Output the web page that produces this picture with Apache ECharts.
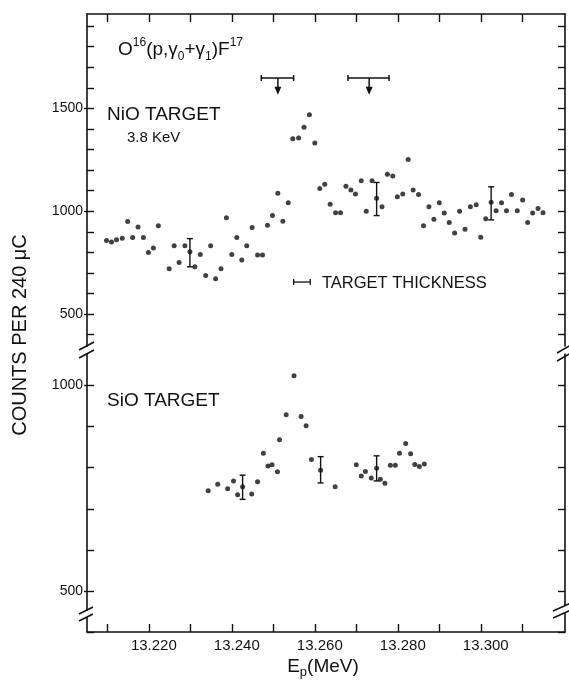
<!DOCTYPE html>
<html><head><meta charset="utf-8">
<script src="https://cdn.jsdelivr.net/npm/echarts@6/dist/echarts.min.js"></script>
<style>html,body{margin:0;padding:0;background:#fff}#c{width:569px;height:682px}</style>
</head><body><div id="c"></div><script>
// ---- data ----
const nioX = [13.2098,13.2110,13.2122,13.2136,13.2149,13.2161,13.2174,13.2187,13.2199,13.2211,13.2223,13.2249,13.2261,13.2273,13.2287,13.2299,13.2311,13.2324,13.2337,13.2349,13.2361,13.2374,13.2387,13.2400,13.2412,13.2424,13.2436,13.2449,13.2462,13.2474,13.2486,13.2498,13.2511,13.2523,13.2536,13.2547,13.2561,13.2574,13.2587,13.2600,13.2612,13.2624,13.2637,13.2650,13.2662,13.2675,13.2687,13.2698,13.2712,13.2724,13.2738,13.2749,13.2762,13.2775,13.2788,13.2799,13.2812,13.2825,13.2837,13.2850,13.2862,13.2875,13.2887,13.2900,13.2912,13.2924,13.2937,13.2949,13.2962,13.2975,13.2989,13.3000,13.3012,13.3025,13.3037,13.3050,13.3062,13.3074,13.3088,13.3101,13.3113,13.3125,13.3138,13.3150];
const nioY = [858,851,861,869,950,872,923,872,800,822,929,721,832,751,832,803,730,790,688,832,672,721,969,790,872,763,832,921,787,787,932,979,1087,952,1042,1353,1356,1409,1469,1332,1111,1131,1034,993,993,1122,1103,1084,1148,1000,1148,1063,1022,1180,1172,1071,1084,1252,1103,1082,930,1022,961,1042,992,945,894,1000,913,1022,1032,874,964,1044,1003,1042,1003,1082,1003,1055,945,992,1013,993];
const nioErrX = [13.2299,13.2749,13.3025];
const nioErrLow = [730,979,958];
const nioErrHigh = [867,1140,1119];

const sioX = [13.2343,13.2366,13.2390,13.2404,13.2414,13.2426,13.2448,13.2462,13.2476,13.2487,13.2497,13.2510,13.2515,13.2531,13.2550,13.2567,13.2579,13.2592,13.2614,13.2649,13.2700,13.2712,13.2722,13.2736,13.2749,13.2758,13.2769,13.2782,13.2794,13.2804,13.2819,13.2831,13.2841,13.2852,13.2864];
const sioY = [744,760,749,768,734,754,736,766,835,804,807,790,868,929,1024,925,902,820,794,754,807,780,791,775,799,772,762,806,806,835,859,834,808,803,809];
const sioErrX = [13.2426,13.2614,13.2749];
const sioErrLow = [723,763,768];
const sioErrHigh = [782,827,829];

const xTicks = [13.21,13.22,13.23,13.24,13.25,13.26,13.27,13.28,13.29,13.30,13.31];
const xLabels = [13.22,13.24,13.26,13.28,13.30];
const nioTicks = [400,500,600,700,800,900,1000,1100,1200,1300,1400,1500,1600,1700,1800,1900];
const nioLabels = [500,1000,1500];
const sioTicks = [400,500,600,700,800,900,1000];
const sioLabels = [500,1000];

// resolution markers (bar + arrow)
const resBarLeft = [13.2471,13.2680];
const resBarRight = [13.2549,13.2779];
const resArrowX = [13.2511,13.2731];
const resBarY = 1648, resArrowTipY = 1567;
// target thickness bar
const thickLeft = [13.2549], thickRight = [13.2589], thickY = [656];

// ---- chart ----
const FONT = 'Liberation Sans, Arial, sans-serif';
const INK = '#111';
const chart = echarts.init(document.getElementById('c'));
const xMin = 13.2051, xMax = 13.3203;

function errRender(params, api){
  const x = api.value(0), lo = api.value(1), hi = api.value(2);
  const a = api.coord([x, lo]), b = api.coord([x, hi]);
  const st = {stroke: INK, lineWidth: 1.4};
  return {type:'group', children:[
    {type:'line', shape:{x1:a[0],y1:a[1],x2:b[0],y2:b[1]}, style:st},
    {type:'line', shape:{x1:a[0]-3,y1:a[1],x2:a[0]+3,y2:a[1]}, style:st},
    {type:'line', shape:{x1:b[0]-3,y1:b[1],x2:b[0]+3,y2:b[1]}, style:st}
  ]};
}
function resRender(params, api){
  const l = api.coord([api.value(0), resBarY]), r = api.coord([api.value(1), resBarY]);
  const m = api.coord([api.value(2), resBarY]), t = api.coord([api.value(2), resArrowTipY]);
  const st = {stroke: INK, lineWidth: 1.5};
  return {type:'group', children:[
    {type:'line', shape:{x1:l[0],y1:l[1],x2:r[0],y2:r[1]}, style:st},
    {type:'line', shape:{x1:l[0],y1:l[1]-3,x2:l[0],y2:l[1]+3}, style:st},
    {type:'line', shape:{x1:r[0],y1:r[1]-3,x2:r[0],y2:r[1]+3}, style:st},
    {type:'line', shape:{x1:m[0],y1:m[1],x2:t[0],y2:t[1]-6}, style:st},
    {type:'polygon', shape:{points:[[t[0]-3.5,t[1]-8],[t[0]+3.5,t[1]-8],[t[0],t[1]]]}, style:{fill:INK}}
  ]};
}
function thickRender(params, api){
  const y = api.value(2);
  const l = api.coord([api.value(0), y]), r = api.coord([api.value(1), y]);
  const st = {stroke: INK, lineWidth: 1.3};
  return {type:'group', children:[
    {type:'line', shape:{x1:l[0],y1:l[1],x2:r[0],y2:r[1]}, style:st},
    {type:'line', shape:{x1:l[0],y1:l[1]-3,x2:l[0],y2:l[1]+3}, style:st},
    {type:'line', shape:{x1:r[0],y1:r[1]-3,x2:r[0],y2:r[1]+3}, style:st}
  ]};
}

const lineSt = {lineStyle:{color:INK, width:1.6}};
function yAx(grid, pos, min, max, ticks, labels, showLabels){
  return {type:'value', gridIndex:grid, position:pos, min:min, max:max, splitLine:{show:false},
    axisLine:{show:true, ...lineSt},
    axisTick:{show:true, inside:true, length:7, customValues:ticks, lineStyle:{color:INK, width:1.4}},
    axisLabel:{show:showLabels, customValues:labels, formatter:v=>String(Math.round(v)), margin:4, color:INK, fontFamily:FONT, fontSize:14}};
}
function yMajor(grid, min, max, labels){
  return {type:'value', gridIndex:grid, position:'left', min:min, max:max, splitLine:{show:false},
    axisLine:{show:false}, axisLabel:{show:false},
    axisTick:{show:true, inside:false, length:3, customValues:labels, lineStyle:{color:INK, width:1.4}}};
}

const option = {
  animation:false,
  backgroundColor:'#fff',
  grid:[
    {left:87, right:4, top:14, height:332},
    {left:87, right:4, top:354, height:278}
  ],
  xAxis:[
    {type:'value', gridIndex:0, position:'bottom', min:xMin, max:xMax, show:false},
    {type:'value', gridIndex:1, position:'bottom', min:xMin, max:xMax, splitLine:{show:false},
      axisLine:{show:true, ...lineSt},
      axisTick:{show:true, inside:true, length:8, customValues:xTicks, lineStyle:{color:INK, width:1.4}},
      axisLabel:{customValues:xLabels, formatter:v=>Number(v).toFixed(3), margin:6, padding:[0,0,0,10], color:INK, fontFamily:FONT, fontSize:15}},
    {type:'value', gridIndex:0, position:'top', min:xMin, max:xMax, splitLine:{show:false},
      axisLine:{show:true, ...lineSt}, axisLabel:{show:false},
      axisTick:{show:true, inside:true, length:8, customValues:xTicks, lineStyle:{color:INK, width:1.4}}}
  ],
  yAxis:[
    yAx(0,'left',345,1959,nioTicks,nioLabels,true),
    yAx(0,'right',345,1959,nioTicks,nioLabels,false),
    yMajor(0,345,1959,nioLabels),
    yAx(1,'left',400,1077,sioTicks,sioLabels,true),
    yAx(1,'right',400,1077,sioTicks,sioLabels,false),
    yMajor(1,400,1077,sioLabels)
  ],
  series:[
    {type:'scatter', xAxisIndex:0, yAxisIndex:0, symbolSize:5, itemStyle:{color:INK},
      data:nioX.map((x,i)=>[x,nioY[i]])},
    {type:'custom', xAxisIndex:0, yAxisIndex:0, renderItem:errRender,
      data:nioErrX.map((x,i)=>[x,nioErrLow[i],nioErrHigh[i]])},
    {type:'custom', xAxisIndex:0, yAxisIndex:0, renderItem:resRender,
      data:resBarLeft.map((l,i)=>[l,resBarRight[i],resArrowX[i]])},
    {type:'custom', xAxisIndex:0, yAxisIndex:0, renderItem:thickRender,
      data:thickLeft.map((l,i)=>[l,thickRight[i],thickY[i]])},
    {type:'scatter', xAxisIndex:1, yAxisIndex:3, symbolSize:5, itemStyle:{color:INK},
      data:sioX.map((x,i)=>[x,sioY[i]])},
    {type:'custom', xAxisIndex:1, yAxisIndex:3, renderItem:errRender,
      data:sioErrX.map((x,i)=>[x,sioErrLow[i],sioErrHigh[i]])}
  ],
  graphic:[
    {type:'text', x:118, y:50, z:10, style:{
      text:'{n|O}{sup|16}{n|(p,γ}{sub|0}{n|+γ}{sub|1}{n|)F}{sup|17}',
      verticalAlign:'middle', fill:INK,
      rich:{
        n:{fontSize:19, fontFamily:FONT, lineHeight:26, verticalAlign:'middle', fill:INK},
        sup:{fontSize:12, fontFamily:FONT, lineHeight:12, verticalAlign:'top', fill:INK},
        sub:{fontSize:12, fontFamily:FONT, lineHeight:12, verticalAlign:'bottom', fill:INK}
      }}},
    {type:'text', x:107, y:115, z:10, style:{text:'NiO TARGET', fontSize:19, fontFamily:FONT, fill:INK, verticalAlign:'middle'}},
    {type:'text', x:127, y:138, z:10, style:{text:'3.8 KeV', fontSize:15, fontFamily:FONT, fill:INK, verticalAlign:'middle'}},
    {type:'text', x:322, y:283, z:10, style:{text:'TARGET THICKNESS', fontSize:16.5, fontFamily:FONT, fill:INK, verticalAlign:'middle'}},
    {type:'text', x:107, y:401, z:10, style:{text:'SiO TARGET', fontSize:19, fontFamily:FONT, fill:INK, verticalAlign:'middle'}},
    {type:'text', x:20, y:335, rotation:Math.PI/2, z:10, style:{text:'COUNTS PER 240 μC', fontSize:20, fontFamily:FONT, fill:INK, align:'center', verticalAlign:'middle'}},
    {type:'text', x:323, y:667, z:10, style:{
      text:'{n|E}{sub|p}{n|(MeV)}', align:'center', verticalAlign:'middle', fill:INK,
      rich:{
        n:{fontSize:19, fontFamily:FONT, lineHeight:24, verticalAlign:'middle', fill:INK},
        sub:{fontSize:13, fontFamily:FONT, lineHeight:13, verticalAlign:'bottom', fill:INK}
      }}},
    // axis-break marks
    {type:'line', z:20, shape:{x1:79,y1:350,x2:94,y2:342}, style:{stroke:INK, lineWidth:1.6}},
    {type:'line', z:20, shape:{x1:79,y1:358,x2:94,y2:350}, style:{stroke:INK, lineWidth:1.6}},
    {type:'line', z:20, shape:{x1:557,y1:353,x2:571,y2:345}, style:{stroke:INK, lineWidth:1.6}},
    {type:'line', z:20, shape:{x1:557,y1:361,x2:571,y2:353}, style:{stroke:INK, lineWidth:1.6}},
    {type:'rect', z:19, shape:{x:83,y:611,width:8,height:6}, style:{fill:'#fff'}},
    {type:'line', z:20, shape:{x1:79,y1:614,x2:93,y2:607}, style:{stroke:INK, lineWidth:1.6}},
    {type:'line', z:20, shape:{x1:79,y1:621,x2:93,y2:614}, style:{stroke:INK, lineWidth:1.6}},
    {type:'rect', z:19, shape:{x:561,y:606,width:8,height:7}, style:{fill:'#fff'}},
    {type:'line', z:20, shape:{x1:553,y1:611,x2:571,y2:603}, style:{stroke:INK, lineWidth:1.6}},
    {type:'line', z:20, shape:{x1:553,y1:618,x2:571,y2:610}, style:{stroke:INK, lineWidth:1.6}}
  ]
};
chart.setOption(option);
</script></body></html>
